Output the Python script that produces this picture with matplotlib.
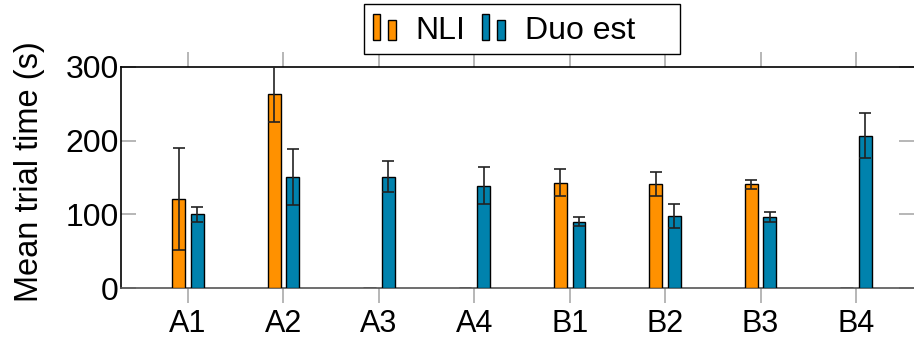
import numpy as np
import matplotlib
matplotlib.use("Agg")
import matplotlib.pyplot as plt
from matplotlib.patches import Rectangle
from matplotlib.legend_handler import HandlerBase

plt.rcParams['font.family'] = ['Liberation Sans', 'DejaVu Sans']

categories = ["A1", "A2", "A3", "A4", "B1", "B2", "B3", "B4"]
nli_mean = [121, 263, 0, 0, 143, 141, 141, 0]
nli_err = [69, 38, np.nan, np.nan, 18.5, 16, 6, np.nan]
duo_mean = [100, 151, 151, 139, 90, 97.5, 96, 207]
duo_err = [10, 38, 21, 25, 6.5, 16.5, 7, 31]
series_labels = ["NLI", "Duo est"]
yticks = [0, 100, 200, 300]

orange = "#FF9100"
blue = "#0082AD"

W, H = 914, 338
fig = plt.figure(figsize=(W/100, H/100), dpi=100)
ax = fig.add_axes([121/W, 50/H, (W-121)/W, (288-67)/H])

x = np.arange(1, len(categories) + 1)
off = 0.097
w = 0.135
b1 = ax.bar(x - off, nli_mean, w, color=orange, edgecolor='black', linewidth=1.0, zorder=3)
b2 = ax.bar(x + off, duo_mean, w, color=blue, edgecolor='black', linewidth=1.0, zorder=3)
ekw = dict(fmt='none', ecolor='#222222', elinewidth=1.2, capsize=4.5, capthick=1.2, zorder=4)
ax.errorbar(x - off, nli_mean, yerr=nli_err, **ekw)
ax.errorbar(x + off, duo_mean, yerr=duo_err, **ekw)

ax.set_xlim(0.298, 8.608)
ax.set_ylim(0, 300)
ax.set_xticks(x)
ax.set_xticklabels(categories, fontsize=22)
ax.set_yticks(yticks)
ax.set_yticklabels([str(v) for v in yticks], fontsize=23)
ax.set_ylabel("Mean trial time (s)", fontsize=23.5)
ax.yaxis.set_label_coords((45 - 121) / (W - 121), (288 - 172) / (288 - 67))

ax.tick_params(axis='x', which='both', direction='out', length=11, width=1.2,
               color='#aaaaaa', top=True, bottom=True, pad=4)
ax.tick_params(axis='y', which='both', direction='in', length=11, width=1.2,
               color='#aaaaaa', left=True, right=True, pad=1.5)
for s in ['left', 'top']:
    ax.spines[s].set_color('black')
    ax.spines[s].set_linewidth(1.2)
ax.spines['bottom'].set_color('#555555')
ax.spines['bottom'].set_linewidth(1.2)
ax.spines['right'].set_visible(False)


class TwoBarHandler(HandlerBase):
    def __init__(self, color):
        super().__init__()
        self.color = color

    def create_artists(self, legend, orig_handle, xdescent, ydescent,
                       width, height, fontsize, trans):
        bw = width * 0.31
        y0 = -ydescent - height * 0.05
        r1 = Rectangle((-xdescent, y0), bw, height * 1.15,
                       facecolor=self.color, edgecolor='black', linewidth=1.0, transform=trans)
        r2 = Rectangle((-xdescent + width * 0.66, y0), bw, height * 0.87,
                       facecolor=self.color, edgecolor='black', linewidth=1.0, transform=trans)
        return [r1, r2]


# legend frame (drawn separately to match the wide right margin)
frame = Rectangle((364/W, 1 - 54/H), (680-364)/W, 50/H, transform=fig.transFigure,
                  facecolor='white', edgecolor='black', linewidth=1.0, zorder=5)
fig.patches.append(frame)

leg = fig.legend([b1, b2], series_labels,
                 handler_map={b1: TwoBarHandler(orange), b2: TwoBarHandler(blue)},
                 loc='upper left', bbox_to_anchor=(364/W, 1 - 7/H),
                 ncol=2, fontsize=23, frameon=False,
                 handlelength=0.75, handletextpad=0.6, columnspacing=0.5,
                 borderpad=0.27, borderaxespad=0)
leg.set_zorder(6)

fig.savefig("out.png", dpi=100)
